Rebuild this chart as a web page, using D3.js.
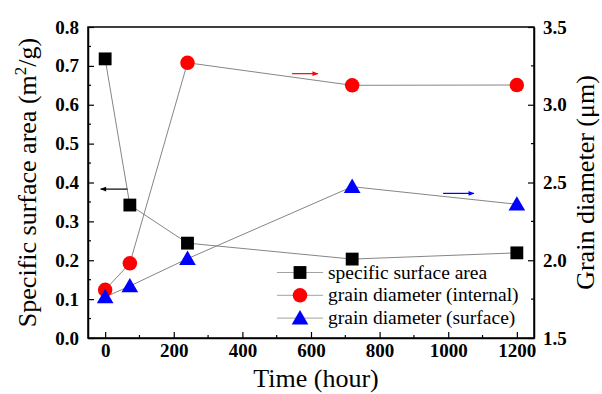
<!DOCTYPE html>
<html lang="en">
<head>
  <meta charset="utf-8">
  <title>Specific surface area and grain diameter vs time</title>
  <script src="https://d3js.org/d3.v7.min.js"></script>
  <style>
    body { margin: 0; background: #fff; }
    svg text { font-family: "Liberation Serif", serif; fill: #000; }
    .axis text { font-size: 19px; font-weight: 700; }
    .title { font-size: 26px; }
    .legend text { font-size: 19.5px; }
  </style>
</head>
<body>
  <div id="chart"></div>
  <script>

    var hours = [0, 72, 240, 720, 1200];
    var surfaceArea = [0.718, 0.342, 0.244, 0.203, 0.219];
    var grainInternal = [1.81, 1.98, 3.27, 3.125, 3.127];
    var grainSurface = [1.764, 1.834, 2.01, 2.473, 2.36];

    var xTicks = [0, 200, 400, 600, 800, 1000, 1200];
    var leftTicks = [0, 0.1, 0.2, 0.3, 0.4, 0.5, 0.6, 0.7, 0.8];
    var rightTicks = [1.5, 2.0, 2.5, 3.0, 3.5];
    var legendNames = ['specific surface area', 'grain diameter (internal)', 'grain diameter (surface)'];

    var margin = { top: 27, right: 68, bottom: 56, left: 88 };
    var W = 602, H = 394;
    var w = W - margin.left - margin.right;
    var h = H - margin.top - margin.bottom;

    var svg = d3.select('#chart').append('svg')
      .attr('width', W)
      .attr('height', H);

    var g = svg.append('g')
      .attr('transform', 'translate(' + margin.left + ',' + margin.top + ')');

    var xScale = d3.scaleLinear().domain([-50, 1250]).range([0, w]);
    var yLeft = d3.scaleLinear().domain([0, 0.8]).range([h, 0]);
    var yRight = d3.scaleLinear().domain([1.5, 3.5]).range([h, 0]);

    // minor ticks
    var minorX = d3.range(0, 1201, 100).filter(function(d) { return d % 200 != 0; });
    var minorL = d3.range(0.05, 0.8, 0.1);
    var minorR = [1.75, 2.25, 2.75, 3.25];

    g.selectAll('.mx').data(minorX).enter().append('line')
      .attr('x1', function(d) { return xScale(d); }).attr('x2', function(d) { return xScale(d); })
      .attr('y1', h).attr('y2', h - 3).attr('stroke', '#000').attr('stroke-width', 1.2);
    g.selectAll('.ml').data(minorL).enter().append('line')
      .attr('y1', function(d) { return yLeft(d); }).attr('y2', function(d) { return yLeft(d); })
      .attr('x1', 0).attr('x2', 3).attr('stroke', '#000').attr('stroke-width', 1.2);
    g.selectAll('.mr').data(minorR).enter().append('line')
      .attr('y1', function(d) { return yRight(d); }).attr('y2', function(d) { return yRight(d); })
      .attr('x1', w).attr('x2', w - 3).attr('stroke', '#000').attr('stroke-width', 1.2);

    var xAxis = d3.axisBottom(xScale).tickValues(xTicks).tickSizeInner(-6).tickSizeOuter(0).tickPadding(6)
      .tickFormat(d3.format('d'));
    var leftAxis = d3.axisLeft(yLeft).tickValues(leftTicks).tickSizeInner(-6).tickSizeOuter(0).tickPadding(9)
      .tickFormat(d3.format('.1f'));
    var rightAxis = d3.axisRight(yRight).tickValues(rightTicks).tickSizeInner(-6).tickSizeOuter(0).tickPadding(9)
      .tickFormat(d3.format('.1f'));

    g.append('g').attr('class', 'axis').attr('transform', 'translate(0,' + h + ')').call(xAxis);
    g.append('g').attr('class', 'axis').call(leftAxis);
    g.append('g').attr('class', 'axis').attr('transform', 'translate(' + w + ',0)').call(rightAxis);

    g.selectAll('.axis').attr('font-family', null).attr('font-size', null);
    g.selectAll('.domain').attr('stroke', '#000').attr('stroke-width', 1.5);
    g.selectAll('.tick line').attr('stroke', '#000').attr('stroke-width', 1.2);

    g.append('rect')
      .attr('width', w).attr('height', h)
      .attr('fill', 'none').attr('stroke', '#000').attr('stroke-width', 1.5);

    // connecting lines
    var series = [
      { values: surfaceArea, scale: yLeft, color: '#000', shape: d3.symbolSquare, size: 165 },
      { values: grainInternal, scale: yRight, color: '#ff0000', shape: d3.symbolCircle, size: 165 },
      { values: grainSurface, scale: yRight, color: '#0000ff', shape: d3.symbolTriangle, size: 120 }
    ];

    series.forEach(function(s) {
      var line = d3.line()
        .x(function(d, i) { return xScale(hours[i]); })
        .y(function(d) { return s.scale(d); });
      g.append('path')
        .datum(s.values)
        .attr('d', line)
        .attr('fill', 'none')
        .attr('stroke', '#777')
        .attr('stroke-width', 0.9);
    });

    series.forEach(function(s) {
      g.selectAll(null)
        .data(s.values)
        .enter()
        .append('path')
        .attr('d', d3.symbol().type(s.shape).size(s.size))
        .attr('transform', function(d, i) {
          var dy = s.shape === d3.symbolTriangle ? 1.5 : 0;
          return 'translate(' + xScale(hours[i]) + ',' + (s.scale(d) + dy) + ')';
        })
        .attr('fill', s.color);
    });

    // arrows pointing at each axis
    var defs = svg.append('defs');
    [['#000', 'aBlack'], ['#ff0000', 'aRed'], ['#0000ff', 'aBlue']].forEach(function(a) {
      defs.append('marker')
        .attr('id', a[1]).attr('viewBox', '0 0 10 10').attr('refX', 9).attr('refY', 5)
        .attr('markerWidth', 6).attr('markerHeight', 5).attr('orient', 'auto')
        .append('path').attr('d', 'M0,1 L10,5 L0,9 Z').attr('fill', a[0]);
    });

    var arrows = [
      { x1: 65, x2: -13, y: 0.383, scale: yLeft, color: '#000', id: 'aBlack' },
      { x1: 545, x2: 620, y: 3.2, scale: yRight, color: '#ff0000', id: 'aRed' },
      { x1: 985, x2: 1075, y: 2.43, scale: yRight, color: '#0000ff', id: 'aBlue' }
    ];
    g.selectAll('.arrow').data(arrows).enter().append('line')
      .attr('x1', function(d) { return xScale(d.x1); })
      .attr('x2', function(d) { return xScale(d.x2); })
      .attr('y1', function(d) { return d.scale(d.y); })
      .attr('y2', function(d) { return d.scale(d.y); })
      .attr('stroke', function(d) { return d.color; })
      .attr('stroke-width', 1.2)
      .attr('marker-end', function(d) { return 'url(#' + d.id + ')'; });

    // legend
    var legend = g.append('g').attr('class', 'legend')
      .attr('transform', 'translate(189,' + (h - 65.5) + ')');

    legendNames.forEach(function(name, i) {
      var row = legend.append('g').attr('transform', 'translate(0,' + (i * 22.8) + ')');
      row.append('line').attr('x1', 0).attr('x2', 46).attr('y1', 0).attr('y2', 0)
        .attr('stroke', '#999').attr('stroke-width', 0.9);
      row.append('path')
        .attr('d', d3.symbol().type(series[i].shape).size(series[i].size))
        .attr('transform', 'translate(23,' + (series[i].shape === d3.symbolTriangle ? 1.5 : 0) + ')')
        .attr('fill', series[i].color);
      row.append('text').attr('x', 51).attr('y', 6).text(name);
    });

    // axis titles
    svg.append('text').attr('class', 'title')
      .attr('transform', 'translate(36,' + (margin.top + h / 2) + ') rotate(-90)')
      .attr('text-anchor', 'middle')
      .html('Specific surface area (m<tspan dy="-10" style="font-size:17px">2</tspan><tspan dy="10">/g)</tspan>');

    svg.append('text').attr('class', 'title')
      .attr('transform', 'translate(594,' + (margin.top + h / 2) + ') rotate(-90)')
      .attr('text-anchor', 'middle')
      .text('Grain diameter (\u03bcm)');

    svg.append('text').attr('class', 'title')
      .attr('x', margin.left + w / 2 + 5)
      .attr('y', 387)
      .attr('text-anchor', 'middle')
      .text('Time (hour)');

  </script>
</body>
</html>
